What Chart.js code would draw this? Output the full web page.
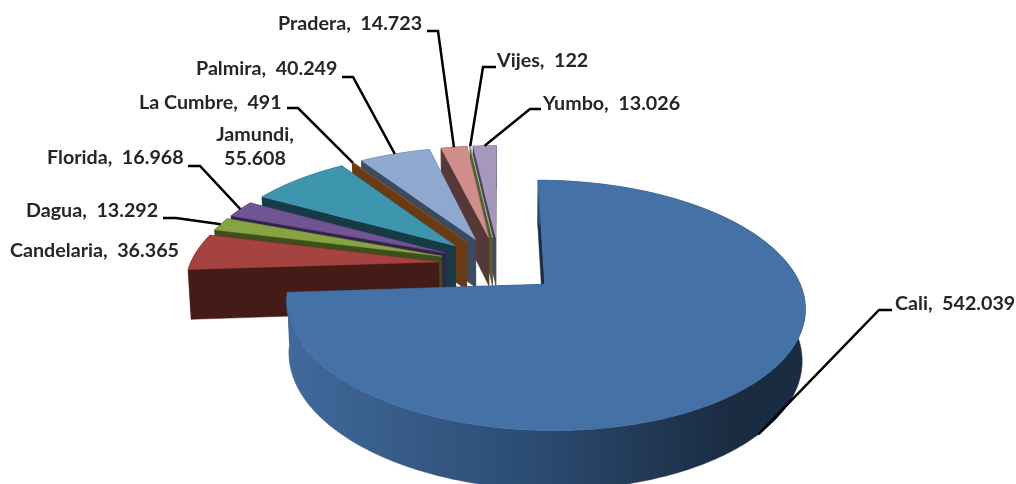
<!DOCTYPE html>
<html>
<head>
<meta charset="utf-8">
<title>Pie</title>
<script src="https://cdn.jsdelivr.net/npm/chart.js@4/dist/chart.umd.min.js"></script>
<style>
  html, body { margin: 0; padding: 0; background: #fff; overflow: hidden; }
  canvas { display: block; filter: blur(0.4px); }
</style>
</head>
<body>
<canvas id="pieChart" width="1016" height="484"></canvas>
<script>
const categories = ["Cali", "Candelaria", "Dagua", "Florida", "Jamundi", "La Cumbre", "Palmira", "Pradera", "Vijes", "Yumbo"];
const values = [542039, 36365, 13292, 16968, 55608, 491, 40249, 14723, 122, 13026];

const topColors = ["#4471a6", "#a54340", "#86a444", "#715593", "#3d95ae", "#8a5520", "#8fa8d0", "#cf8d8b", "#b9cd96", "#a698bd"];
const wallColors = ["#1a2c42", "#451b18", "#3f4f1c", "#33224a", "#173a45", "#6a3a14", "#3c4a60", "#573838", "#4f5f38", "#4a4058"];

// camera used to fake the 3D look
const cam = { cx: 499, cy: 264.5, rx: 248.5, ry: 115, depth: 50, persp: 0.164, sink: 0.01, explode: 0.245 };

// text position: left x, middle y. elbow: where the leader line bends
const labelLayout = [
  { lines: ["Cali,  542.039"], x: 895, y: 304, from: [892, 310], elbow: [879, 310], z: 1 },
  { lines: ["Candelaria,  36.365"], x: 10, y: 251 },
  { lines: ["Dagua,  13.292"], x: 26, y: 211, from: [163, 218], elbow: [176, 218], z: 0 },
  { lines: ["Florida,  16.968"], x: 47, y: 158, from: [188, 166], elbow: [200, 166], z: 0 },
  { lines: ["Jamundi,", "55.608"], x: 255, y: 135, center: true },
  { lines: ["La Cumbre,  491"], x: 139, y: 103, from: [287, 108], elbow: [298, 108], z: 0 },
  { lines: ["Palmira,  40.249"], x: 196, y: 69, from: [342, 77], elbow: [353, 77], z: 0 },
  { lines: ["Pradera,  14.723"], x: 278, y: 24, from: [427, 31], elbow: [438, 31], z: 0 },
  { lines: ["Vijes,  122"], x: 497, y: 61, from: [496, 67], elbow: [483, 67], z: 0 },
  { lines: ["Yumbo,  13.026"], x: 543, y: 104, from: [541, 109], elbow: [530, 109], z: 0 }
];

function project(px, py, z) {
  const w = 1 - cam.persp * py + cam.sink * z;
  return [cam.cx + cam.rx * px / w, cam.cy + (cam.ry * py + cam.depth * z) / w];
}

function polygon(ctx, pts, fill) {
  ctx.beginPath();
  pts.forEach((p, i) => i ? ctx.lineTo(p[0], p[1]) : ctx.moveTo(p[0], p[1]));
  ctx.closePath();
  ctx.fillStyle = fill;
  ctx.strokeStyle = fill;
  ctx.lineWidth = 0.5;
  ctx.fill();
  ctx.stroke();
}

// offset of an exploded slice in the disc plane, from the arc's own angles
function sliceOffset(arc) {
  const mid = (arc.startAngle + arc.endAngle) / 2;
  return [Math.cos(mid) * cam.explode, Math.sin(mid) * cam.explode];
}

function drawSlice(ctx, arc, index) {
  const [ox, oy] = sliceOffset(arc);
  const steps = Math.max(2, Math.ceil((arc.endAngle - arc.startAngle) * 60));
  const rim = [];
  for (let i = 0; i <= steps; i++) {
    const a = arc.startAngle + (arc.endAngle - arc.startAngle) * i / steps;
    rim.push([ox + Math.cos(a), oy + Math.sin(a)]);
  }
  const at = z => p => project(p[0], p[1], z);
  const tip = [ox, oy];
  const first = rim[0];
  const last = rim[rim.length - 1];

  // cut faces
  polygon(ctx, [at(0)(tip), at(0)(first), at(1)(first), at(1)(tip)], wallColors[index]);
  polygon(ctx, [at(0)(tip), at(0)(last), at(1)(last), at(1)(tip)], wallColors[index]);

  // outer wall
  let wall = wallColors[index];
  if (index === 0) {
    wall = ctx.createLinearGradient(289, 0, 730, 0);
    wall.addColorStop(0, "#41699a");
    wall.addColorStop(0.5, "#2d4f76");
    wall.addColorStop(1, "#1a2c42");
  }
  polygon(ctx, rim.map(at(0)).concat(rim.slice().reverse().map(at(1))), wall);

  // top face
  polygon(ctx, [at(0)(tip)].concat(rim.map(at(0))), topColors[index]);
}

function drawLabels(ctx, arcs) {
  ctx.font = "bold 19.7px Lato";
  ctx.textBaseline = "middle";
  ctx.fillStyle = "#262626";
  labelLayout.forEach((item, i) => {
    ctx.textAlign = item.center ? "center" : "left";
    item.lines.forEach((line, n) => ctx.fillText(line, item.x, item.y + n * 24));
    if (!item.elbow) return;
    const [ox, oy] = sliceOffset(arcs[i]);
    const mid = (arcs[i].startAngle + arcs[i].endAngle) / 2;
    const end = project(ox + Math.cos(mid), oy + Math.sin(mid), item.z);
    ctx.beginPath();
    ctx.moveTo(item.from[0], item.from[1]);
    ctx.lineTo(item.elbow[0], item.elbow[1]);
    ctx.lineTo(end[0], end[1]);
    ctx.strokeStyle = "#000";
    ctx.lineWidth = 2.5;
    ctx.stroke();
  });
}

const pie3d = {
  id: "pie3d",
  beforeDatasetsDraw(chart) {
    const ctx = chart.ctx;
    const arcs = chart.getDatasetMeta(0).data;
    // paint back to front
    const order = arcs.map((arc, i) => i).sort((a, b) => sliceOffset(arcs[a])[1] - sliceOffset(arcs[b])[1]);
    order.forEach(i => drawSlice(ctx, arcs[i], i));
    drawLabels(ctx, arcs);
    return false;
  }
};

new Chart(document.getElementById("pieChart").getContext("2d"), {
  type: "pie",
  data: {
    labels: categories,
    datasets: [{ data: values, backgroundColor: topColors }]
  },
  options: {
    responsive: false,
    animation: false,
    rotation: 0,
    plugins: { legend: { display: false }, tooltip: { enabled: false } }
  },
  plugins: [pie3d]
});
</script>
</body>
</html>
